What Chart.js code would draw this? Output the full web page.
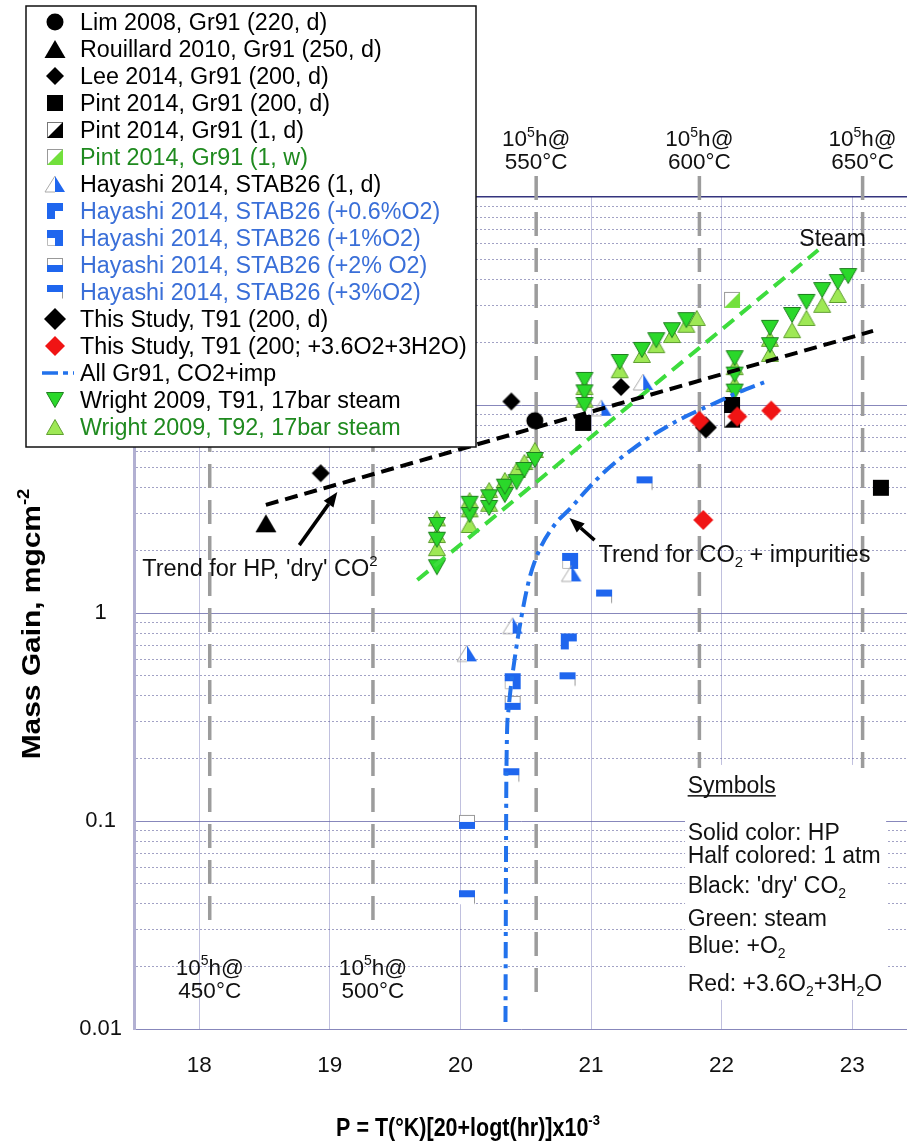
<!DOCTYPE html>
<html><head><meta charset="utf-8">
<script src="https://cdn.jsdelivr.net/npm/chart.js@4.4.0/dist/chart.umd.min.js"></script>
<style>html,body{margin:0;padding:0;background:#fff;overflow:hidden}#wrap{position:relative;width:907px;height:1143px}</style>
</head><body><div id="wrap"><canvas id="c" width="907" height="1143"></canvas></div>
<script>
// ---------------- DATA (P = Larson-Miller parameter, value = mass gain mg/cm2) ----------------
const xTickVals = [18, 19, 20, 21, 22, 23];
const yGridVals = [0.01,0.02,0.03,0.04,0.05,0.06,0.07,0.08,0.09,0.1,0.2,0.3,0.4,0.5,0.6,0.7,0.8,0.9,1,2,3,4,5,6,7,8,9,10,20,30,40,50,60,70,80,90,100];
const yLabelVals = [0.01, 0.1, 1, 10, 100];
const yLabelText = ['0.01', '0.1', '1', '10', '100'];

const limP = [20.57], limV = [8.4];
const rouillardP = [18.51], rouillardV = [2.7];
const leeP = [18.93, 20.39, 21.23], leeV = [4.7, 10.4, 12.2];
const pint200P = [20.94, 22.08, 23.22], pint200V = [8.2, 10.0, 4.0];
const pint1dP = [22.08], pint1dV = [8.5];
const pint1wP = [22.08], pint1wV = [32];
const haya1dP = [20.05, 20.40, 20.85, 21.08, 21.40], haya1dV = [0.64, 0.87, 1.55, 9.7, 12.9];
const haya06P = [20.83], haya06V = [0.73];
const haya1P = [20.40, 20.84], haya1V = [0.47, 1.78];
const haya2P = [20.05, 20.40], haya2V = [0.099, 0.37];
const haya3P = [20.05, 20.39, 20.82, 21.10, 21.41], haya3V = [0.043, 0.166, 0.48, 1.2, 4.2];
const thisDryP = [21.88], thisDryV = [7.8];
const thisImpP = [21.83, 22.12, 22.38, 21.86], thisImpV = [8.4, 8.8, 9.4, 2.8];
const co2ImpP = [20.345, 20.352, 20.368, 20.414, 20.467, 20.529, 20.605, 20.720, 20.851, 20.966, 21.119, 21.318, 21.525, 21.732, 21.962, 22.115, 22.345];
const co2ImpV = [0.0108, 0.170, 0.342, 0.594, 0.957, 1.47, 2.01, 2.65, 3.23, 3.90, 4.87, 6.14, 7.50, 8.85, 10.3, 11.4, 13.0];
const wrightT91P = [19.82, 19.82, 19.82, 20.07, 20.07, 20.22, 20.22, 20.34, 20.34, 20.43, 20.49, 20.57, 20.95, 20.95, 20.95, 21.22, 21.39, 21.50, 21.62, 21.73, 22.10, 22.10, 22.10, 22.37, 22.37, 22.54, 22.65, 22.77, 22.89, 22.97];
const wrightT91V = [2.65, 2.25, 1.66, 2.96, 3.35, 3.20, 3.60, 3.69, 4.05, 4.26, 4.87, 5.44, 13.2, 11.5, 10.0, 16.1, 18.4, 20.5, 22.9, 25.6, 16.8, 14.0, 11.6, 23.5, 19.4, 27.1, 31.3, 35.7, 39.0, 41.7];
const wrightT92P = [19.82, 19.82, 19.82, 20.07, 20.07, 20.07, 20.22, 20.22, 20.34, 20.43, 20.49, 20.57, 20.95, 20.95, 21.22, 21.39, 21.50, 21.62, 21.73, 21.81, 22.10, 22.10, 22.37, 22.37, 22.54, 22.65, 22.77, 22.89];
const wrightT92V = [2.85, 2.37, 2.05, 3.49, 3.15, 2.65, 3.90, 3.35, 4.36, 4.87, 5.32, 6.08, 12.2, 10.6, 14.7, 17.4, 19.4, 21.7, 24.3, 26.2, 15.2, 12.6, 17.6, 20.8, 22.9, 26.2, 30.3, 33.8];
const dryTrendP = [18.51, 23.16], dryTrendV = [3.31, 22.7];
const steamTrendP = [19.67, 22.74], steamTrendV = [1.44, 55.6];

// 10^5 h reference temperatures
const refTempLabels = ['450°C', '500°C', '550°C', '600°C', '650°C'];
const refP = [18.08, 19.33, 20.58, 21.83, 23.08];
const refLow = [0.032, 0.0295, 0.0137, 0.18, 0.18];

const seriesNames = ['Lim 2008, Gr91 (220, d)', 'Rouillard 2010, Gr91 (250, d)', 'Lee 2014, Gr91 (200, d)', 'Pint 2014, Gr91 (200, d)', 'Pint 2014, Gr91 (1, d)', 'Pint 2014, Gr91 (1, w)', 'Hayashi 2014, STAB26 (1, d)', 'Hayashi 2014, STAB26 (+0.6%O2)', 'Hayashi 2014, STAB26 (+1%O2)', 'Hayashi 2014, STAB26 (+2% O2)', 'Hayashi 2014, STAB26 (+3%O2)', 'This Study, T91 (200, d)', 'This Study, T91 (200; +3.6O2+3H2O)', 'All Gr91, CO2+imp', 'Wright 2009, T91, 17bar steam', 'Wright 2009, T92, 17bar steam'];

// ---------------- styles ----------------
const FONT = '"Liberation Sans", Arial, Helvetica, sans-serif';
const BLUE = '#1f66ee';
const TXT_BLUE = '#3a6fd8';
const TXT_GREEN = '#1f8a1f';
function mk(w, h, draw) { const c = document.createElement('canvas'); c.width = w; c.height = h; const g = c.getContext('2d'); draw(g); return c; }
function poly(g, pts) { g.beginPath(); g.moveTo(pts[0][0], pts[0][1]); for (let i = 1; i < pts.length; i++) g.lineTo(pts[i][0], pts[i][1]); g.closePath(); }
const M = {
  circle: mk(20, 20, g => { g.fillStyle = '#000'; g.beginPath(); g.arc(10, 10, 8.5, 0, Math.PI * 2); g.fill(); }),
  triBlack: mk(24, 22, g => { g.fillStyle = '#000'; poly(g, [[12, 2], [22.5, 20], [1.5, 20]]); g.fill(); }),
  diaS: mk(20, 20, g => { g.fillStyle = '#000'; poly(g, [[10, 1], [19, 10], [10, 19], [1, 10]]); g.fill(); }),
  square: mk(18, 18, g => { g.fillStyle = '#000'; g.fillRect(1, 1, 16, 16); }),
  halfSqBlack: mk(20, 20, g => { g.fillStyle = '#fff'; g.fillRect(2, 2, 16, 16); g.strokeStyle = '#777'; g.lineWidth = 1; g.strokeRect(2.5, 2.5, 15, 15); g.fillStyle = '#000'; poly(g, [[18, 2], [18, 18], [2, 18]]); g.fill(); }),
  halfSqGreen: mk(20, 20, g => { g.fillStyle = '#fff'; g.fillRect(2, 2, 16, 16); g.strokeStyle = '#999'; g.lineWidth = 1; g.strokeRect(2.5, 2.5, 15, 15); g.fillStyle = '#72e03c'; poly(g, [[18, 2], [18, 18], [2, 18]]); g.fill(); }),
  hayaTri: mk(24, 20, g => { g.strokeStyle = '#aaa'; g.lineWidth = 1; g.beginPath(); g.moveTo(12, 2); g.lineTo(2, 18); g.lineTo(12, 18); g.stroke(); g.fillStyle = BLUE; poly(g, [[12, 2], [22, 18], [12, 18]]); g.fill(); }),
  h06: mk(18, 18, g => { g.fillStyle = BLUE; g.fillRect(1, 1, 16, 16); g.fillStyle = '#fff'; g.fillRect(9, 9, 8, 8); }),
  h1: mk(18, 18, g => { g.fillStyle = BLUE; g.fillRect(1, 1, 16, 16); g.fillStyle = '#fff'; g.fillRect(1, 9, 8, 8); g.strokeStyle = '#bbb'; g.lineWidth = 1; g.beginPath(); g.moveTo(1.5, 9); g.lineTo(1.5, 16.5); g.lineTo(9, 16.5); g.stroke(); }),
  h2: mk(18, 16, g => { g.fillStyle = '#fff'; g.fillRect(1, 1, 16, 7); g.strokeStyle = '#999'; g.lineWidth = 1; g.strokeRect(1.5, 1.5, 15, 7); g.fillStyle = BLUE; g.fillRect(1, 8, 16, 7); }),
  h3: mk(18, 16, g => { g.fillStyle = BLUE; g.fillRect(1, 1, 16, 7); g.fillStyle = '#fff'; g.fillRect(1, 8, 16, 7); g.strokeStyle = '#999'; g.lineWidth = 1; g.beginPath(); g.moveTo(16.5, 8); g.lineTo(16.5, 14.5); g.stroke(); }),
  diaL: mk(24, 24, g => { g.fillStyle = '#000'; poly(g, [[12, 1], [23, 12], [12, 23], [1, 12]]); g.fill(); }),
  diaRed: mk(22, 22, g => { g.fillStyle = '#f01414'; poly(g, [[11, 1], [21, 11], [11, 21], [1, 11]]); g.fill(); }),
  triDown: mk(20, 18, g => { g.fillStyle = '#2ad82a'; g.strokeStyle = '#1f7f1f'; g.lineWidth = 1; poly(g, [[1.5, 1.5], [18.5, 1.5], [10, 16.5]]); g.fill(); g.stroke(); }),
  triUp: mk(20, 18, g => { g.fillStyle = '#9ee855'; g.strokeStyle = '#5f9f30'; g.lineWidth = 1; poly(g, [[10, 1.5], [18.5, 16.5], [1.5, 16.5]]); g.fill(); g.stroke(); })
};
const legendMarkers = [M.circle, M.triBlack, M.diaS, M.square, M.halfSqBlack, M.halfSqGreen, M.hayaTri, M.h06, M.h1, M.h2, M.h3, M.diaL, M.diaRed, null, M.triDown, M.triUp];
const legendColors = ['#000', '#000', '#000', '#000', '#000', TXT_GREEN, '#000', TXT_BLUE, TXT_BLUE, TXT_BLUE, TXT_BLUE, '#000', '#000', '#000', '#000', TXT_GREEN];

const pts = (P, V) => P.map((p, i) => ({ x: p, y: V[i] }));
const sc = (label, P, V, img) => ({ label, data: pts(P, V), pointStyle: img, pointRadius: 9, showLine: false });

const datasets = [
  { label: 'Trend HP dry CO2', data: pts(dryTrendP, dryTrendV), showLine: true, pointRadius: 0, borderColor: '#000', borderWidth: 4, borderDash: [13, 7] },
  { label: 'Steam trend', data: pts(steamTrendP, steamTrendV), showLine: true, pointRadius: 0, borderColor: '#3ddc3d', borderWidth: 4, borderDash: [14, 8] },
  { label: seriesNames[13], data: pts(co2ImpP, co2ImpV), showLine: true, pointRadius: 0, borderColor: '#2272ec', borderWidth: 4, borderDash: [16, 6, 4, 6], cubicInterpolationMode: 'monotone' },
  sc(seriesNames[12], thisImpP, thisImpV, M.diaRed),
  sc(seriesNames[0], limP, limV, M.circle),
  sc(seriesNames[11], thisDryP, thisDryV, M.diaL),
  sc(seriesNames[3], pint200P, pint200V, M.square),
  sc(seriesNames[4], pint1dP, pint1dV, M.halfSqBlack),
  sc(seriesNames[2], leeP, leeV, M.diaS),
  sc(seriesNames[1], rouillardP, rouillardV, M.triBlack),
  sc(seriesNames[6], haya1dP, haya1dV, M.hayaTri),
  sc(seriesNames[7], haya06P, haya06V, M.h06),
  sc(seriesNames[8], haya1P, haya1V, M.h1),
  sc(seriesNames[9], haya2P, haya2V, M.h2),
  sc(seriesNames[10], haya3P, haya3V, M.h3),
  sc(seriesNames[5], pint1wP, pint1wV, M.halfSqGreen),
  sc(seriesNames[14], wrightT91P, wrightT91V, M.triDown),
  sc(seriesNames[15], wrightT92P, wrightT92V, M.triUp)
];

// ---------------- rich text helper ----------------
function rich(ctx, parts, x, y, size, color, align, bold) {
  const w = bold ? 'bold ' : '';
  const small = Math.round(size * 0.62);
  let total = 0;
  const widths = parts.map(p => { ctx.font = w + (p[1] ? small : size) + 'px ' + FONT; const m = ctx.measureText(p[0]).width; total += m; return m; });
  let cx = align === 'center' ? x - total / 2 : (align === 'right' ? x - total : x);
  ctx.fillStyle = color; ctx.textAlign = 'left'; ctx.textBaseline = 'alphabetic';
  const base = y + size * 0.36;
  parts.forEach((p, i) => {
    ctx.font = w + (p[1] ? small : size) + 'px ' + FONT;
    const dy = p[1] === 'sup' ? -size * 0.42 : (p[1] === 'sub' ? size * 0.22 : 0);
    ctx.fillText(p[0], cx, base + dy);
    cx += widths[i];
  });
  return { left: cx - total, width: total };
}
function arrow(ctx, x1, y1, x2, y2) {
  ctx.save(); ctx.strokeStyle = '#000'; ctx.fillStyle = '#000'; ctx.lineWidth = 3.5;
  const a = Math.atan2(y2 - y1, x2 - x1), L = 15, W = 6;
  const bx = x2 - Math.cos(a) * L, by = y2 - Math.sin(a) * L;
  ctx.beginPath(); ctx.moveTo(x1, y1); ctx.lineTo(bx, by); ctx.stroke();
  ctx.beginPath(); ctx.moveTo(x2, y2); ctx.lineTo(bx + Math.sin(a) * W, by - Math.cos(a) * W); ctx.lineTo(bx - Math.sin(a) * W, by + Math.cos(a) * W); ctx.closePath(); ctx.fill();
  ctx.restore();
}

const deco = {
  id: 'deco',
  beforeDatasetsDraw(chart) {
    const { ctx, chartArea: a, scales: { x, y } } = chart;
    ctx.save();
    const bx1 = x.getPixelForValue(21.72), bx2 = x.getPixelForValue(23.26);
    const by1 = y.getPixelForValue(0.186), by2 = y.getPixelForValue(0.0138);
    ctx.fillStyle = '#fff'; ctx.fillRect(bx1, by1, bx2 - bx1, by2 - by1);
    ctx.strokeStyle = '#9c9c9c'; ctx.lineWidth = 3.5; ctx.setLineDash([24, 12]);
    refP.forEach((p, i) => {
      const px = x.getPixelForValue(p);
      ctx.beginPath(); ctx.moveTo(px, a.top - 21); ctx.lineTo(px, y.getPixelForValue(refLow[i])); ctx.stroke();
    });
    ctx.restore();
  },
  afterDatasetsDraw(chart) {
    const { ctx, chartArea: a, scales: { x, y } } = chart;
    ctx.save();
    refP.forEach((p, i) => {
      const px = x.getPixelForValue(p);
      if (i < 2) {
        rich(ctx, [['10'], ['5', 'sup'], ['h@']], px, y.getPixelForValue(0.0199), 22.5, '#111', 'center');
        rich(ctx, [[refTempLabels[i]]], px, y.getPixelForValue(0.0154), 22.5, '#111', 'center');
      } else {
        rich(ctx, [['10'], ['5', 'sup'], ['h@']], px, a.top - 59, 22.5, '#111', 'center');
        rich(ctx, [[refTempLabels[i]]], px, a.top - 36, 22.5, '#111', 'center');
      }
    });
    rich(ctx, [['Steam']], x.getPixelForValue(22.85), y.getPixelForValue(64), 23, '#111', 'center');
    rich(ctx, [["Trend for HP, 'dry' CO"], ['2', 'sup']], x.getPixelForValue(17.563), y.getPixelForValue(1.65), 23.5, '#111', 'left');
    arrow(ctx, x.getPixelForValue(18.766), y.getPixelForValue(2.12), x.getPixelForValue(19.057), y.getPixelForValue(3.82));
    rich(ctx, [['Trend for CO'], ['2', 'sub'], [' + impurities']], x.getPixelForValue(21.057), y.getPixelForValue(1.94), 23.5, '#111', 'left');
    arrow(ctx, x.getPixelForValue(21.027), y.getPixelForValue(2.24), x.getPixelForValue(20.835), y.getPixelForValue(2.86));
    const kx = x.getPixelForValue(21.74);
    const r = rich(ctx, [['Symbols']], kx, y.getPixelForValue(0.1488), 23, '#111', 'left');
    ctx.fillStyle = '#111'; ctx.fillRect(r.left, y.getPixelForValue(0.1488) + 10, r.width, 1.5);
    rich(ctx, [['Solid color: HP']], kx, y.getPixelForValue(0.0887), 23, '#111', 'left');
    rich(ctx, [['Half colored: 1 atm']], kx, y.getPixelForValue(0.0687), 23, '#111', 'left');
    rich(ctx, [["Black: 'dry' CO"], ['2', 'sub']], kx, y.getPixelForValue(0.0494), 23, '#111', 'left');
    rich(ctx, [['Green: steam']], kx, y.getPixelForValue(0.0343), 23, '#111', 'left');
    rich(ctx, [['Blue: +O'], ['2', 'sub']], kx, y.getPixelForValue(0.0255), 23, '#111', 'left');
    rich(ctx, [['Red: +3.6O'], ['2', 'sub'], ['+3H'], ['2', 'sub'], ['O']], kx, y.getPixelForValue(0.0167), 23, '#111', 'left');
    // axis titles
    ctx.save(); ctx.translate(468, 1127); ctx.scale(1, 1.18);
    rich(ctx, [['P = T(°K)[20+logt(hr)]x10'], ['-3', 'sup']], 0, 0, 21.5, '#000', 'center', true);
    ctx.restore();
    ctx.save(); ctx.translate(31, 624); ctx.rotate(-Math.PI / 2); ctx.scale(1.15, 1);
    rich(ctx, [['Mass Gain, mgcm'], ['-2', 'sup']], 0, 0, 26, '#000', 'center', true);
    ctx.restore();
    // legend box
    const L = 26, T = 6, R = 476, B = 447;
    ctx.fillStyle = '#fff'; ctx.fillRect(L, T, R - L, B - T);
    ctx.strokeStyle = '#111'; ctx.lineWidth = 1.5; ctx.strokeRect(L, T, R - L, B - T);
    seriesNames.forEach((name, i) => {
      const cy = 22 + i * 27;
      const img = legendMarkers[i];
      if (img) ctx.drawImage(img, Math.round(55 - img.width / 2), Math.round(cy - img.height / 2));
      else {
        ctx.save(); ctx.strokeStyle = '#2272ec'; ctx.lineWidth = 3.5; ctx.setLineDash([16, 5, 5, 5]);
        ctx.beginPath(); ctx.moveTo(42, cy); ctx.lineTo(74, cy); ctx.stroke(); ctx.restore();
      }
      ctx.save(); ctx.beginPath(); ctx.rect(L, T, R - L - 2, B - T); ctx.clip();
      rich(ctx, [[name]], 80, cy, 23.3, legendColors[i], 'left');
      ctx.restore();
    });
    ctx.restore();
  }
};

const isMajor = v => Math.abs(Math.log10(v) - Math.round(Math.log10(v))) < 1e-6;

new Chart(document.getElementById('c'), {
  type: 'scatter',
  data: { datasets },
  options: {
    responsive: false, animation: false, devicePixelRatio: 1,
    layout: { autoPadding: false, padding: { top: 197, left: 0, right: 0, bottom: 0 } },
    plugins: { legend: { display: false }, tooltip: { enabled: false } },
    elements: { line: { tension: 0 } },
    scales: {
      x: {
        type: 'linear', min: 17.5, max: 23.42,
        afterBuildTicks: s => { s.ticks = xTickVals.map(v => ({ value: v })); },
        afterFit: s => { s.height = 114; s.paddingLeft = 0; s.paddingRight = 0; },
        grid: { color: 'rgba(130,130,190,0.5)', lineWidth: 1, drawTicks: false },
        border: { display: false },
        ticks: { font: { family: FONT, size: 22.5 }, color: '#111', padding: 23, callback: v => String(v), maxRotation: 0 }
      },
      y: {
        type: 'logarithmic', min: 0.01, max: 100,
        afterBuildTicks: s => { s.ticks = yGridVals.map(v => ({ value: v })); },
        afterFit: s => { s.width = 134; s.paddingTop = 0; s.paddingBottom = 0; },
        grid: {
          drawTicks: false,
          color: c => { const v = c.tick ? c.tick.value : 1; if (v >= 99) return '#34347e'; return isMajor(v) ? 'rgba(105,105,170,0.8)' : 'rgba(85,85,150,0.55)'; },
          lineWidth: c => (c.tick && c.tick.value >= 99) ? 1.5 : 1
        },
        border: {
          display: true, color: '#b2b0d2', width: 3,
          dash: c => { const v = c.tick ? c.tick.value : 1; return isMajor(v) ? [] : [2, 2]; }
        },
        ticks: {
          crossAlign: 'center', padding: 12, autoSkip: false,
          font: { family: FONT, size: 22 }, color: '#111',
          callback: v => { const k = yLabelVals.findIndex(t => Math.abs(t - v) / t < 1e-6); return k >= 0 ? yLabelText[k] : ''; }
        }
      }
    }
  },
  plugins: [deco]
});
</script></body></html>
